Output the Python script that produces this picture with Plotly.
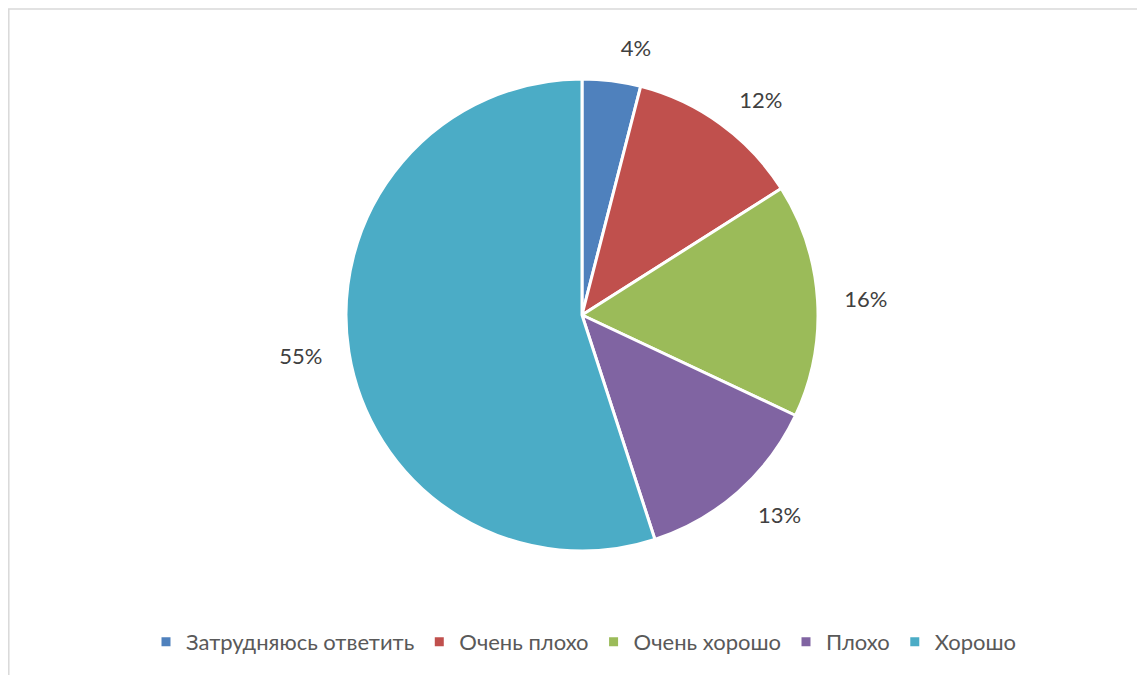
import plotly.graph_objects as go

labels = ["Затрудняюсь ответить", "Очень плохо", "Очень хорошо", "Плохо", "Хорошо"]
values = [4, 12, 16, 13, 55]
colors = ["#4F81BD", "#C0504D", "#9BBB59", "#8064A2", "#4BACC6"]

W, H = 1145, 675
# page body has an 8px offset; compensate
cx, cy, r = 574, 307, 236
r_lab = 256


def dom(rad):
    return dict(x=[(cx - rad) / W, (cx + rad) / W],
                y=[(H - cy - rad) / H, (H - cy + rad) / H])


fig = go.Figure()
fig.add_trace(go.Pie(
    labels=labels,
    values=values,
    sort=False,
    direction="clockwise",
    rotation=0,
    marker=dict(colors=colors, line=dict(color="white", width=3)),
    textinfo="none",
    domain=dom(r),
    hoverinfo="label+percent",
))
# transparent pie only used to place the percentage labels further out
fig.add_trace(go.Pie(
    labels=labels,
    values=values,
    sort=False,
    direction="clockwise",
    rotation=0,
    marker=dict(colors=["rgba(0,0,0,0)"] * len(values), line=dict(width=0)),
    textinfo="percent",
    textposition="outside",
    outsidetextfont=dict(family="Lato", size=22, color="#404040"),
    domain=dom(r_lab),
    hoverinfo="skip",
    showlegend=False,
))

fig.update_layout(
    width=W, height=H,
    margin=dict(l=0, r=0, t=0, b=0),
    paper_bgcolor="white",
    showlegend=True,
    legend=dict(
        orientation="h",
        x=576 / W, xanchor="center",
        y=(H - 634) / H, yanchor="middle",
        font=dict(family="Lato", size=22, color="#595959"),
        traceorder="normal",
    ),
    shapes=[
        dict(type="line", xref="paper", yref="paper", x0=0, x1=1, y0=(H - 1) / H, y1=(H - 1) / H,
             line=dict(color="#d9d9d9", width=1.5)),
        dict(type="line", xref="paper", yref="paper", x0=0.8 / W, x1=0.8 / W, y0=(H - 1) / H, y1=0,
             line=dict(color="#d9d9d9", width=1.5)),
    ],
)

fig.write_html("out.html")
